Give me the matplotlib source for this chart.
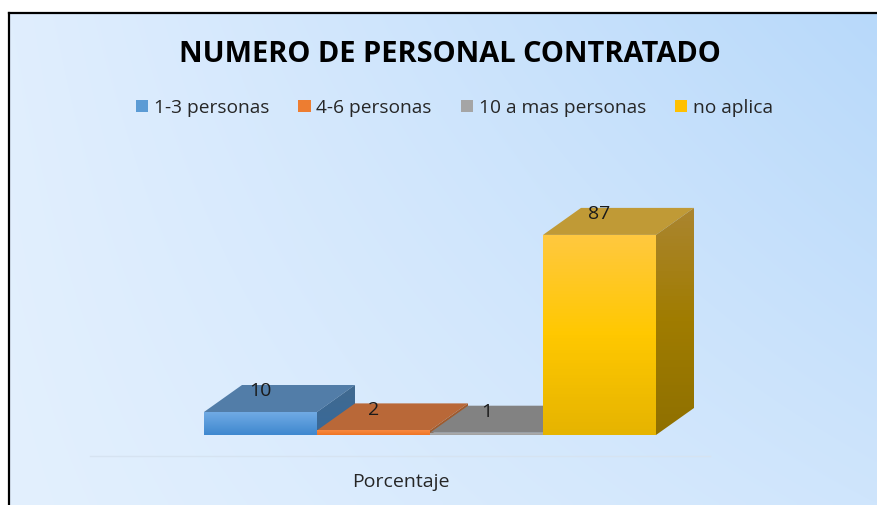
import numpy as np
import matplotlib
matplotlib.use('Agg')
import matplotlib.pyplot as plt
from matplotlib.colors import LinearSegmentedColormap
from matplotlib.patches import Polygon, Patch

plt.rcParams['font.family'] = ['Open Sans', 'DejaVu Sans']

# Data
title = 'NUMERO DE PERSONAL CONTRATADO'
category = 'Porcentaje'
series = ['1-3 personas', '4-6 personas', '10 a mas personas', 'no aplica']
values = [10, 2, 1, 87]

# Colours for each face
legend_cols = ['#5b9bd5', '#ed7d31', '#a5a5a5', '#ffc000']
front_cols = [['#70aae4', '#3f88cf'],
              ['#f98a40', '#ee7424'],
              ['#b0b0b0', '#a0a0a0'],
              ['#ffc840', '#ffc800', '#e6b400']]
top_cols = ['#527da8', '#b96838', '#828282', '#c09a36']
side_cols = [['#41698f', '#386a9a'],
             ['#a05a2c', '#a05a2c'],
             ['#707070', '#707070'],
             ['#ab8530', '#a07c00', '#8f7000']]

W, H = 878, 505
fig = plt.figure(figsize=(W / 100, H / 100), dpi=100, facecolor='white')

# Panel, white margin left and top only
left, top = 9, 13
ax = fig.add_axes([left / W, 0, (W - left) / W, (H - top) / H])

px_per_x = 113
px_per_y = 2.3
base_px = 435
center0_px = 260.5
xlim = ((left - center0_px) / px_per_x, (W - center0_px) / px_per_x)
ylim = ((base_px - H) / px_per_y, (base_px - top) / px_per_y)
dx = 38 / px_per_x
dy = 27 / px_per_y

# Background gradient (corners: bottom-left, bottom-right, top-left, top-right)
corners = np.array([[[0xe3, 0xf0, 0xfe], [0xcf, 0xe5, 0xfc]],
                    [[0xe0, 0xee, 0xfe], [0xb8, 0xd9, 0xfa]]]) / 255
u, v = np.meshgrid(np.linspace(0, 1, 220), np.linspace(0, 1, 130))
bg = ((1 - v) * (1 - u))[..., None] * corners[0, 0] + ((1 - v) * u)[..., None] * corners[0, 1] \
    + (v * (1 - u))[..., None] * corners[1, 0] + (v * u)[..., None] * corners[1, 1]
ax.imshow(bg, extent=(0, 1, 0, 1), transform=ax.transAxes, origin='lower',
          aspect='auto', zorder=0, interpolation='bilinear')


def gradient_face(pts, cols, z):
    # vertical gradient clipped to a polygon
    pts = np.array(pts)
    cmap = LinearSegmentedColormap.from_list('f', cols[::-1])
    im = ax.imshow(np.linspace(0, 1, 64)[:, None], cmap=cmap, origin='lower', aspect='auto',
                   extent=(pts[:, 0].min(), pts[:, 0].max(), pts[:, 1].min(), pts[:, 1].max()),
                   zorder=z)
    poly = Polygon(pts, closed=True, transform=ax.transData, facecolor='none')
    ax.add_patch(poly)
    im.set_clip_path(poly)


# Bars, left to right so each one covers the previous side face
for i, val in enumerate(values):
    x0, x1 = i - 0.5, i + 0.5
    z = 2 + i
    ax.add_patch(Polygon([(x0, val), (x1, val), (x1 + dx, val + dy), (x0 + dx, val + dy)],
                         closed=True, facecolor=top_cols[i], edgecolor='none', zorder=z))
    gradient_face([(x1, 0), (x1 + dx, dy), (x1 + dx, val + dy), (x1, val)], side_cols[i], z)
    gradient_face([(x0, 0), (x1, 0), (x1, val), (x0, val)], front_cols[i], z)
    ax.annotate(str(val), (i, val), xytext=(0, 15), textcoords='offset points',
                ha='center', va='center', fontsize=14, color='#1a1a1a', zorder=10)

ax.set_xlim(xlim)
ax.set_ylim(ylim)

# Category axis line and label
ax.plot([(90 - center0_px) / px_per_x, (710 - center0_px) / px_per_x], [(base_px - 456) / px_per_y] * 2,
        color='#d6e3f1', lw=1, zorder=1)
ax.text((401 - center0_px) / px_per_x, (base_px - 482) / px_per_y, category,
        ha='center', va='center', fontsize=14, color='#262626')

ax.set_xticks([])
ax.set_yticks([])
for s in ['right', 'bottom']:
    ax.spines[s].set_visible(False)
for s in ['left', 'top']:
    ax.spines[s].set_linewidth(1.6)
    ax.spines[s].set_color('black')

fig.text(450 / W, 1 - 55 / H, title, ha='center', va='center', fontsize=20.9,
         fontweight='bold', color='black')

handles = [Patch(facecolor=c, edgecolor='none') for c in legend_cols]
fig.legend(handles, series, ncol=4, loc='center', bbox_to_anchor=(454.5 / W, 1 - 108 / H),
           frameon=False, fontsize=13.8, labelcolor='#262626', handlelength=0.65, handleheight=0.6,
           handletextpad=0.3, columnspacing=1.5, borderpad=0, borderaxespad=0)

fig.savefig('out.png', dpi=100)
